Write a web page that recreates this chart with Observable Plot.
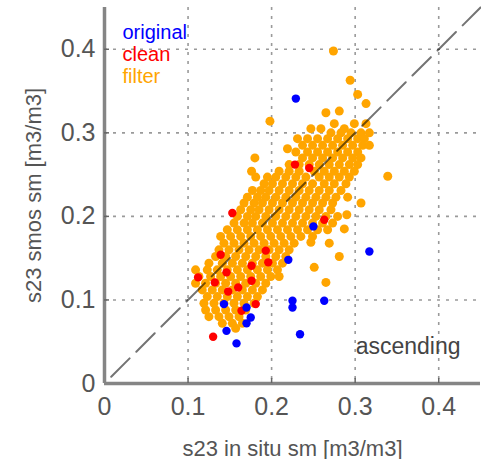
<!DOCTYPE html>
<html>
<head>
<meta charset="utf-8">
<script src="https://cdn.jsdelivr.net/npm/d3@7"></script>
<script src="https://cdn.jsdelivr.net/npm/@observablehq/plot@0.6"></script>
<style>
  html, body { margin: 0; padding: 0; background: #fff; }
  #chart svg { display: block; }
</style>
</head>
<body>
<div id="chart"></div>
<script>
// ---- data (s23 in situ sm, s23 smos sm) ----
const xTicks = [0, 0.1, 0.2, 0.3, 0.4];
const yTicks = [0, 0.1, 0.2, 0.3, 0.4];
const gridTicks = [0.1, 0.2, 0.3, 0.4];
const oneToOne = [0, 0.45];

const xTitle = "s23 in situ sm [m3/m3]";
const yTitle = "s23 smos sm [m3/m3]";
const legendLabels = ["original", "clean", "filter"];
const legendColors = ["#0000ff", "#ff0000", "#ffa500"];
const passLabel = "ascending";

const originalSM = [
  [0.229,0.341],[0.317,0.158],[0.263,0.099],[0.225,0.099],[0.225,0.091],[0.234,0.059],
  [0.158,0.048],[0.146,0.063],[0.143,0.095],[0.170,0.091],[0.175,0.079],[0.170,0.072],
  [0.220,0.148],[0.250,0.188]
];

const cleanSM = [
  [0.153,0.204],[0.228,0.262],[0.245,0.258],[0.263,0.196],[0.193,0.159],[0.196,0.145],
  [0.176,0.141],[0.176,0.123],[0.139,0.154],[0.146,0.133],[0.148,0.110],[0.160,0.115],
  [0.132,0.121],[0.112,0.127],[0.130,0.056],[0.164,0.087],[0.181,0.095]
];

const filterSM = [
  [0.274,0.398],[0.294,0.363],[0.303,0.346],[0.313,0.335],[0.281,0.326],[0.265,0.324],[0.198,0.314],
  [0.275,0.311],[0.299,0.311],[0.313,0.311],
  [0.247,0.305],[0.259,0.305],[0.287,0.305],
  [0.271,0.300],[0.283,0.300],[0.295,0.300],[0.307,0.300],[0.317,0.300],
  [0.231,0.293],[0.243,0.293],[0.255,0.293],[0.267,0.293],[0.279,0.293],[0.291,0.293],[0.303,0.293],[0.311,0.293],
  [0.237,0.285],[0.249,0.285],[0.261,0.285],[0.273,0.285],[0.285,0.285],[0.297,0.285],[0.309,0.285],[0.317,0.285],
  [0.219,0.281],
  [0.229,0.277],[0.243,0.277],[0.255,0.277],[0.267,0.277],[0.279,0.277],[0.291,0.277],[0.303,0.277],
  [0.180,0.270],[0.237,0.270],[0.249,0.270],[0.261,0.270],[0.273,0.270],[0.285,0.270],[0.297,0.270],[0.307,0.270],
  [0.221,0.262],[0.233,0.262],[0.245,0.262],[0.257,0.262],[0.269,0.262],[0.281,0.262],[0.293,0.262],[0.303,0.262],
  [0.176,0.254],[0.209,0.254],[0.221,0.254],[0.233,0.254],[0.251,0.254],[0.263,0.254],[0.275,0.254],[0.287,0.254],[0.299,0.254],
  [0.339,0.248],
  [0.181,0.247],[0.195,0.247],[0.205,0.247],[0.217,0.247],[0.229,0.247],[0.241,0.247],[0.257,0.247],[0.269,0.247],[0.281,0.247],[0.293,0.247],
  [0.191,0.239],[0.201,0.239],[0.213,0.239],[0.225,0.239],[0.237,0.239],[0.249,0.239],[0.263,0.239],[0.275,0.239],[0.289,0.239],
  [0.177,0.231],[0.187,0.231],[0.197,0.231],[0.209,0.231],[0.221,0.231],[0.233,0.231],[0.245,0.231],[0.257,0.231],[0.269,0.231],[0.283,0.231],
  [0.171,0.223],[0.183,0.223],[0.193,0.223],[0.205,0.223],[0.217,0.223],[0.229,0.223],[0.241,0.223],[0.253,0.223],[0.265,0.223],[0.277,0.223],[0.291,0.223],
  [0.167,0.216],[0.179,0.216],[0.189,0.216],[0.201,0.216],[0.213,0.216],[0.225,0.216],[0.237,0.216],[0.249,0.216],[0.261,0.216],[0.273,0.216],[0.307,0.216],
  [0.163,0.208],[0.175,0.208],[0.185,0.208],[0.197,0.208],[0.209,0.208],[0.221,0.208],[0.233,0.208],[0.245,0.208],[0.257,0.208],[0.271,0.208],
  [0.290,0.202],
  [0.159,0.200],[0.171,0.200],[0.181,0.200],[0.193,0.200],[0.205,0.200],[0.217,0.200],[0.229,0.200],[0.241,0.200],[0.253,0.200],[0.265,0.200],[0.279,0.200],
  [0.155,0.192],[0.167,0.192],[0.177,0.192],[0.189,0.192],[0.201,0.192],[0.213,0.192],[0.225,0.192],[0.237,0.192],[0.249,0.192],[0.261,0.192],[0.273,0.192],
  [0.287,0.185],
  [0.147,0.184],[0.159,0.184],[0.171,0.184],[0.183,0.184],[0.195,0.184],[0.207,0.184],[0.219,0.184],[0.231,0.184],[0.243,0.184],[0.255,0.184],[0.267,0.184],
  [0.139,0.176],[0.151,0.176],[0.163,0.176],[0.175,0.176],[0.187,0.176],[0.199,0.176],[0.211,0.176],[0.223,0.176],[0.235,0.176],[0.249,0.176],
  [0.247,0.169],
  [0.143,0.168],[0.155,0.168],[0.167,0.168],[0.179,0.168],[0.191,0.168],[0.203,0.168],[0.215,0.168],[0.227,0.168],[0.269,0.168],
  [0.137,0.160],[0.149,0.160],[0.161,0.160],[0.173,0.160],[0.185,0.160],[0.197,0.160],[0.209,0.160],[0.221,0.160],
  [0.133,0.152],[0.145,0.152],[0.157,0.152],[0.169,0.152],[0.181,0.152],[0.193,0.152],[0.205,0.152],[0.217,0.152],[0.281,0.152],
  [0.125,0.144],[0.141,0.144],[0.153,0.144],[0.165,0.144],[0.177,0.144],[0.189,0.144],[0.201,0.144],[0.213,0.144],
  [0.251,0.139],
  [0.109,0.136],[0.123,0.136],[0.135,0.136],[0.147,0.136],[0.159,0.136],[0.171,0.136],[0.183,0.136],[0.195,0.136],[0.207,0.136],
  [0.113,0.128],[0.127,0.128],[0.139,0.128],[0.151,0.128],[0.163,0.128],[0.175,0.128],[0.187,0.128],[0.199,0.128],[0.209,0.128],
  [0.265,0.121],
  [0.109,0.120],[0.121,0.120],[0.133,0.120],[0.145,0.120],[0.157,0.120],[0.169,0.120],[0.181,0.120],[0.193,0.120],
  [0.117,0.112],[0.129,0.112],[0.141,0.112],[0.153,0.112],[0.165,0.112],[0.177,0.112],[0.189,0.112],
  [0.123,0.104],[0.135,0.104],[0.147,0.104],[0.159,0.104],[0.171,0.104],[0.183,0.104],
  [0.119,0.096],[0.131,0.096],[0.143,0.096],[0.155,0.096],[0.167,0.096],[0.179,0.096],
  [0.121,0.088],[0.133,0.088],[0.145,0.088],[0.157,0.088],[0.169,0.088],
  [0.125,0.080],[0.137,0.080],[0.149,0.080],[0.161,0.080],
  [0.141,0.072],[0.153,0.072],[0.165,0.072],
  [0.157,0.066]
];

// ---- chart ----
const font = "'Liberation Sans', Arial, Helvetica, sans-serif";
const textGray = "#555";

const legendMarks = legendLabels.map((t, i) =>
  Plot.text([t], {
    text: d => d,
    frameAnchor: "top-left",
    textAnchor: "start",
    lineAnchor: "middle",
    dx: 18,
    dy: 25 + i * 22,
    fill: legendColors[i],
    fontSize: 20
  })
);

const chart = Plot.plot({
  width: 481,
  height: 459,
  marginLeft: 104,
  marginRight: 1,
  marginTop: 7,
  marginBottom: 76,
  style: { fontFamily: font, background: "#fff", color: textGray },
  x: { domain: [0, 0.45] },
  y: { domain: [0, 0.45] },
  marks: [
    Plot.gridX(gridTicks, { stroke: "#9a9a9a", strokeOpacity: 1, strokeWidth: 1.6, strokeDasharray: "3,6" }),
    Plot.gridY(gridTicks, { stroke: "#9a9a9a", strokeOpacity: 1, strokeWidth: 1.6, strokeDasharray: "3,6" }),
    Plot.dot(filterSM, { x: d => d[0], y: d => d[1], r: 4.5, fill: legendColors[2], stroke: "none" }),
    Plot.dot(cleanSM, { x: d => d[0], y: d => d[1], r: 4.2, fill: legendColors[1], stroke: "none" }),
    Plot.dot(originalSM, { x: d => d[0], y: d => d[1], r: 4.2, fill: legendColors[0], stroke: "none" }),
    Plot.line(oneToOne.map(v => [v, v]), {
      x: d => d[0], y: d => d[1],
      stroke: "#000", strokeOpacity: 0.55, strokeWidth: 2,
      strokeDasharray: "26,9.5", strokeDashoffset: 26
    }),
    Plot.ruleX([0], { stroke: "#858585", strokeWidth: 3.5 }),
    Plot.ruleY([0], { stroke: "#858585", strokeWidth: 3.5 }),
    Plot.axisX(gridTicks, { tickSize: -5, tickFormat: () => "", stroke: "#666", strokeWidth: 1.5, label: null }),
    Plot.axisY(gridTicks, { tickSize: -5, tickFormat: () => "", stroke: "#666", strokeWidth: 1.5, label: null }),
    Plot.axisX(xTicks, {
      tickSize: 0, tickPadding: 14, fontSize: 25, fill: textGray,
      tickFormat: d => String(d), label: null
    }),
    Plot.axisY(yTicks, {
      tickSize: 0, tickPadding: 9, fontSize: 25, fill: textGray,
      tickFormat: d => String(d), label: null
    }),
    Plot.axisX([], {
      tickSize: 0, fontSize: 22, fill: textGray,
      label: xTitle, labelAnchor: "center", labelOffset: 72, labelArrow: false
    }),
    Plot.axisY([], {
      tickSize: 0, fontSize: 22, fill: textGray,
      label: yTitle, labelAnchor: "center", labelOffset: 79, labelArrow: false
    }),
    ...legendMarks,
    Plot.text([passLabel], {
      text: d => d,
      frameAnchor: "bottom-right",
      textAnchor: "end",
      lineAnchor: "middle",
      dx: -20,
      dy: -37,
      fill: "#444",
      fontSize: 23
    })
  ]
});

document.getElementById("chart").appendChild(chart);
</script>
</body>
</html>
